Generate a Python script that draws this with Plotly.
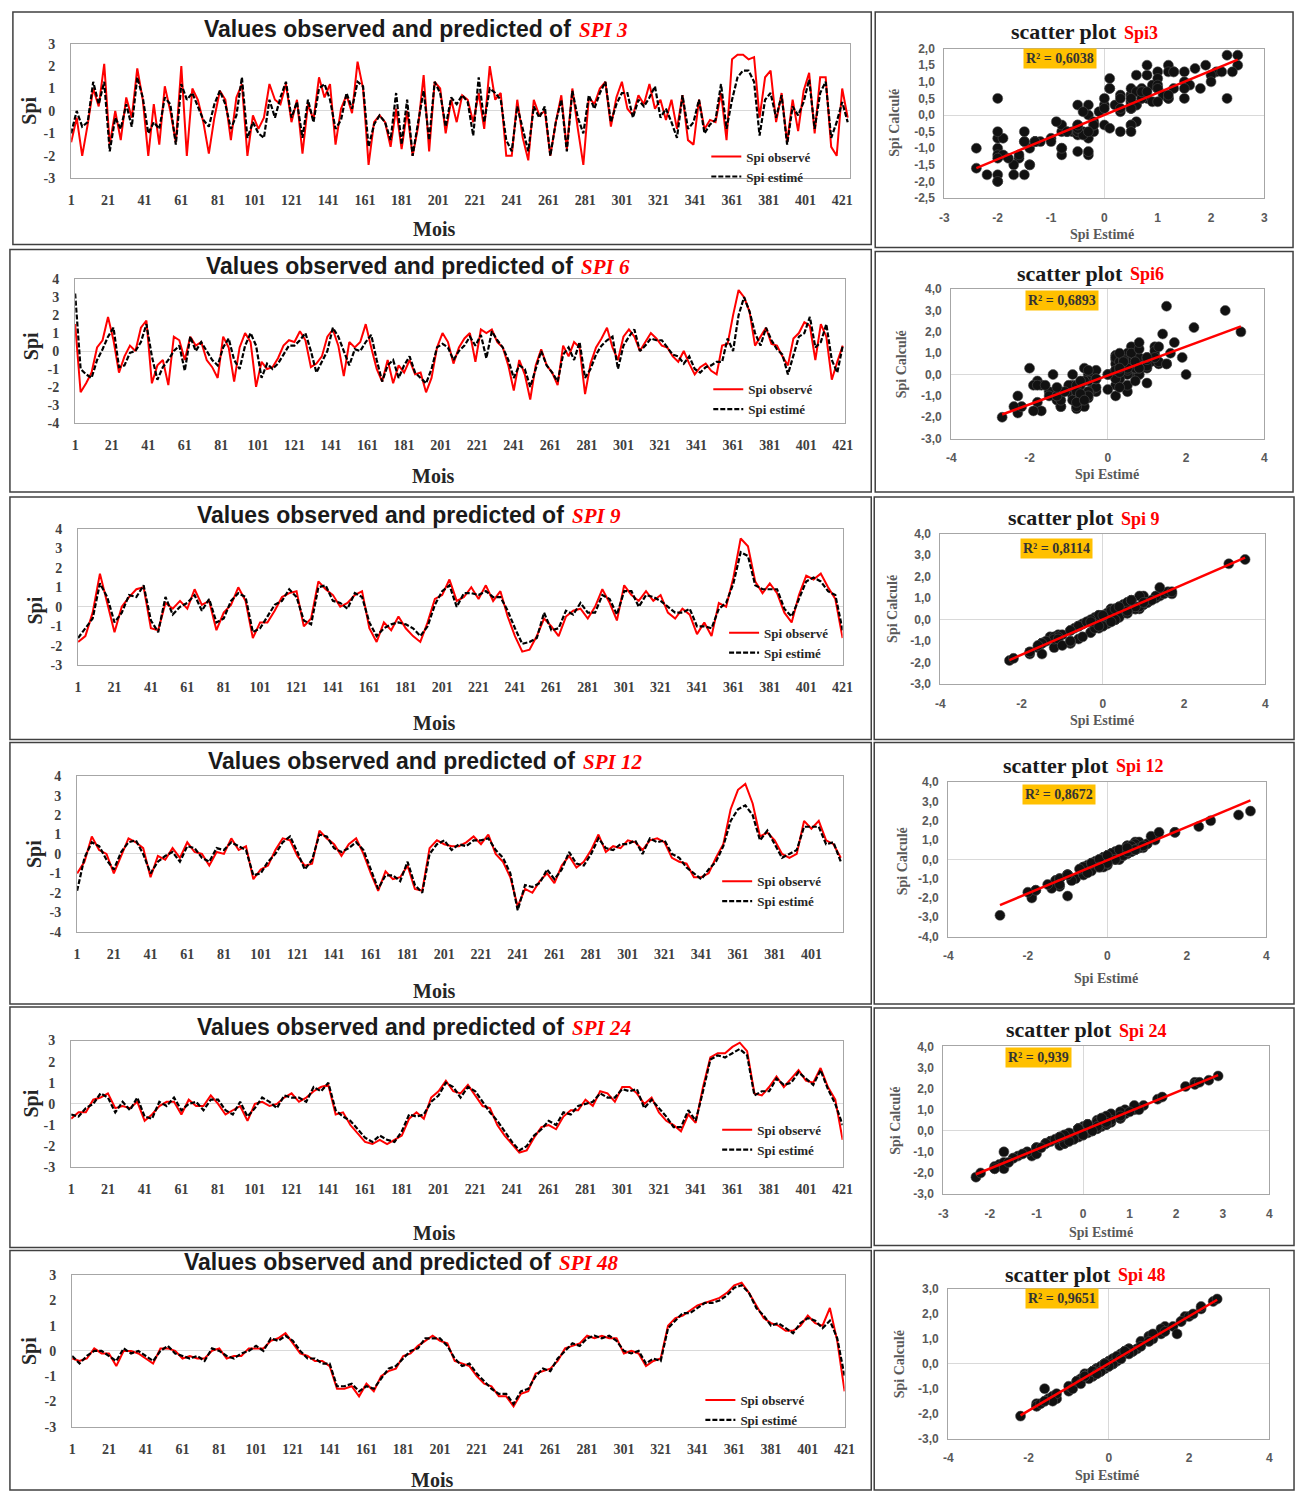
import numpy as np
import plotly.graph_objects as go

W, H = 1307, 1499
SERIF = "Liberation Serif"
SANS = "Liberation Sans"

# ---------------- DATA ----------------
month_ticks = [1, 21, 41, 61, 81, 101, 121, 141, 161, 181, 201, 221, 241, 261, 281, 301, 321, 341, 361, 381, 401, 421]

months_spi3 = list(range(1, 425, 3))
spi3_obs = [-1.4, -0.3, -2.0, -0.6, 1.0, 0.2, 2.1, -1.5, 0.0, -1.3,
            0.6, -0.3, 1.9, 0.5, -2.0, 0.3, -1.5, 1.1, 0.0, -1.4,
            2.0, -2.0, 1.0, 0.5, -0.5, -1.9, -0.3, 0.9, 0.5, -1.3,
            0.6, 1.2, -2.0, -0.2, -0.8, -0.3, 1.2, 0.5, 0.3, 1.2,
            -0.5, 0.5, -1.9, 0.3, -0.4, 1.5, 0.6, 1.2, -1.5, 0.1,
            0.7, -0.1, 2.2, 1.0, -2.4, -0.5, -0.2, -0.5, -1.6, 0.1,
            -1.7, 0.0, -2.0, -0.7, 1.6, -1.8, 1.3, 1.0, -1.0, 0.5,
            -0.5, 0.7, 0.5, -0.5, 0.8, -0.8, 2.0, 0.5, 0.8, -2.0,
            -2.0, 0.5, -1.2, -2.2, 0.5, -0.2, 0.0, -2.0, -0.5, 0.7,
            -1.7, 1.0, -0.8, -2.4, 0.6, 0.3, 1.0, 1.3, -0.7, 0.6,
            1.3, 0.1, -0.2, 0.7, 0.3, 1.2, 0.1, 0.5, -0.4, 0.5,
            -0.8, 0.7, -1.3, -1.5, 0.5, -0.8, -0.4, -0.5, 0.8, -1.3,
            2.3, 2.5, 2.5, 2.3, 2.4, -0.3, 1.5, 1.8, -0.5, 0.8,
            -1.4, 0.5, -0.9, 0.9, 1.7, -1.0, 1.5, 1.5, -1.6, -2.0,
            1.0, -0.3]
spi3_est = [-1.0, 0.0, -0.7, -0.5, 1.3, 0.3, 1.3, -1.8, -0.3, -0.8,
            0.3, -0.7, 1.5, 0.6, -1.0, -0.5, -0.8, 0.6, 0.3, -1.5,
            1.2, 0.5, 0.8, 0.2, -0.4, -0.7, 0.3, 0.9, 0.3, -0.8,
            -0.2, 1.5, -1.2, -0.5, -1.0, -1.2, 0.5, -0.3, 0.6, 1.3,
            -0.3, 0.4, -1.2, 0.5, -0.5, 1.0, 1.2, 0.5, -0.8, -0.4,
            0.8, 0.1, 1.3, 1.1, -1.6, -0.6, -0.2, -0.5, -1.3, 0.8,
            -1.5, 0.5, -2.0, -0.5, 0.9, -1.3, 1.3, 0.8, -0.7, 0.6,
            0.3, 0.7, 0.4, -1.1, 1.5, -0.5, 1.0, 0.8, 0.5, -1.3,
            -1.8, 0.2, -0.8, -1.8, 0.2, -0.3, 0.2, -2.0, -0.5, 0.5,
            -1.8, 0.9, -0.3, -1.0, 0.7, 0.1, 0.8, 1.3, -0.5, 0.3,
            0.8, 0.8, -0.3, 0.5, 0.2, 0.6, 1.1, -0.3, 0.1, -0.5,
            -1.2, 0.7, -0.8, -0.5, 0.5, -1.0, -0.6, -0.4, 1.2, -0.8,
            0.5, 1.5, 1.8, 1.8, 1.3, -1.1, 0.5, 0.8, -0.3, 0.7,
            -1.5, 0.2, -0.2, 0.4, 1.4, -0.8, 0.8, 1.3, -1.2, -0.5,
            0.4, -0.5]

months_spi6 = list(range(1, 422, 3))
spi6_obs = [1.5, -2.3, -1.8, -1.2, 0.2, 0.6, 1.9, 0.6, -1.2, -0.3,
            0.3, 0.0, 1.3, 1.7, -1.8, -0.8, -0.5, -1.9, 0.8, 0.6,
            -0.5, 0.8, 0.3, 0.5, -0.5, -0.9, -1.5, 0.8, 0.2, -1.7,
            0.2, 1.0, 0.5, -2.0, -0.6, -1.0, -0.9, -0.4, 0.3, 0.6,
            0.5, 1.1, 0.6, -0.9, -0.7, -0.3, 0.8, 1.2, 0.3, -1.4,
            0.5, 0.2, 0.5, 1.5, 0.2, -1.0, -1.7, -0.5, -1.8, -0.8,
            -1.2, -0.5, -1.3, -1.2, -2.3, -1.5, 0.2, 1.0, 0.5, -0.7,
            0.2, 0.7, 1.0, -0.6, 1.2, 1.0, 1.2, 0.5, 0.2, -0.8,
            -2.2, -0.5, -1.3, -2.7, -0.8, 0.1, -0.8, -1.2, -1.9, 0.3,
            -0.3, 0.5, 0.2, -2.4, -0.7, 0.2, 0.7, 1.3, 0.2, -0.5,
            0.8, 1.2, 0.8, 0.0, 0.5, 1.0, 0.7, 0.3, 0.2, -0.3,
            -0.6, 0.0, -0.7, -1.3, -0.9, -0.7, -1.1, -1.3, 0.3, 0.4,
            2.0, 3.4, 3.0, 2.2, 0.3, 0.8, 1.3, 0.4, 0.3, -0.3,
            -0.8, 0.7, 1.0, 1.6, 1.4, -0.5, 1.5, 0.8, -1.6, -0.6,
            0.3]
spi6_est = [3.2, -1.0, -1.3, -1.5, -0.5, 0.1, 0.8, 1.3, -0.9, -0.8,
            -0.1, 0.0, 0.5, 1.5, -0.3, -1.6, -0.9, -0.5, 0.0, 0.3,
            -1.1, 0.8, 0.0, 0.5, 0.0, -0.5, -0.8, 0.2, 0.7, -0.5,
            -1.0, 0.3, 1.0, 0.3, -1.5, -0.7, -1.0, -0.7, -0.2, 0.3,
            0.3, 0.6, 1.0, 0.0, -1.2, -0.6, 0.0, 1.3, 0.8, 0.0,
            -0.8, 0.1, 0.0, 0.5, 0.9, -0.5, -1.7, -0.8, -0.5, -1.5,
            -0.8, -0.3, -1.2, -1.5, -1.8, -1.0, 0.2, 0.4, 0.2, -0.5,
            0.0, 0.3, 0.8, 0.3, 0.9, -0.4, 1.1, 0.6, 0.2, -0.5,
            -1.5, -0.8, -1.0, -2.0, -1.0, 0.0, -0.8, -1.2, -1.7, -0.2,
            0.2, -0.5, 0.5, -1.5, -1.0, -0.2, 0.3, 0.6, 0.8, -1.0,
            0.3, 0.8, 1.2, 0.0, 0.3, 0.7, 0.6, 0.6, 0.2, -0.2,
            -0.3, -0.7, -0.3, -1.0, -1.2, -0.9, -0.8, -0.6, -0.6, 0.7,
            0.0, 2.0, 3.0, 2.2, 1.0, 0.3, 1.3, 0.6, 0.1, -0.2,
            -1.3, -0.3, 0.8, 1.0, 1.9, 0.2, 0.5, 1.5, -0.5, -1.2,
            0.3]

months_spi9 = list(range(1, 422, 4))
spi9_obs = [-1.8, -1.5, -0.3, 1.7, 0.2, -1.3, 0.0, 0.5, 0.9, 1.0,
            -1.1, -1.2, 0.2, -0.1, 0.3, -0.1, 0.9, 0.1, 0.3, -1.2,
            -0.3, 0.1, 1.0, 0.3, -1.6, -0.8, -0.8, -0.2, 0.5, 0.7,
            0.8, -1.0, -0.6, 1.3, 0.9, 0.6, 0.0, 0.2, 0.6, 0.8,
            -1.1, -1.8, -0.8, -1.2, -0.5, -1.1, -1.5, -1.8, -0.8, 0.4,
            0.6, 1.4, 0.3, 0.5, 1.0, 0.4, 1.1, 0.3, 0.8, -0.5,
            -1.5, -2.3, -2.2, -1.5, -0.6, -1.0, -1.5, -0.5, -0.2, -0.1,
            -0.6, 0.0, 0.9, 0.2, -0.7, 1.1, 0.6, 0.3, 0.8, 0.3,
            0.6, -0.3, -0.6, -0.1, -0.4, -1.4, -0.8, -1.5, 0.2, 0.0,
            1.5, 3.5, 3.1, 1.3, 0.7, 1.2, 0.7, -0.3, -0.8, 0.6,
            1.6, 1.4, 1.7, 1.0, 0.4, -1.6]
spi9_est = [-1.6, -1.1, -0.6, 1.2, 0.5, -0.8, -0.3, 0.6, 0.5, 1.1,
            -0.7, -1.3, 0.5, -0.4, 0.0, 0.2, 0.6, -0.2, 0.4, -0.8,
            -0.6, 0.3, 0.7, 0.5, -1.3, -1.1, -0.5, 0.1, 0.3, 0.9,
            0.5, -0.7, -0.9, 1.0, 1.1, 0.3, 0.2, -0.1, 0.7, 0.5,
            -0.8, -1.5, -1.1, -0.9, -0.8, -0.9, -1.1, -1.5, -1.0, 0.1,
            0.8, 1.1, 0.0, 0.7, 0.7, 0.6, 0.8, 0.5, 0.5, -0.2,
            -1.1, -1.9, -1.8, -1.6, -0.3, -1.2, -1.1, -0.2, -0.4, 0.2,
            -0.3, -0.3, 0.6, 0.4, -0.4, 0.8, 0.8, 0.0, 0.6, 0.5,
            0.3, 0.0, -0.3, -0.3, -0.1, -1.0, -1.0, -1.1, -0.1, 0.2,
            1.2, 2.8, 2.6, 1.1, 0.9, 0.9, 0.9, -0.1, -0.5, 0.4,
            1.3, 1.5, 1.3, 0.8, 0.6, -1.2]

months_spi12 = list(range(1, 418, 4))
spi12_obs = [-1.0, -0.4, 0.9, 0.2, 0.0, -1.0, -0.1, 0.8, 0.6, 0.3,
             -1.2, -0.1, -0.3, 0.3, -0.2, 0.6, 0.1, 0.0, -0.6, 0.1,
             0.0, 0.8, 0.2, 0.4, -1.3, -0.8, -0.6, 0.2, 0.8, 0.7,
             -0.1, -0.6, -0.5, 1.2, 0.8, 0.5, -0.1, 0.5, 0.8, 0.0,
             -1.0, -1.9, -0.9, -1.3, -1.2, -0.6, -1.8, -1.9, 0.3, 0.7,
             0.5, 0.4, 0.4, 0.6, 0.9, 0.5, 1.0, 0.0, -0.4, -1.2,
             -2.7, -1.8, -2.0, -1.4, -1.0, -1.5, -0.6, -0.1, -0.7, -0.4,
             0.2, 1.0, 0.1, 0.4, 0.3, 0.7, 0.6, 0.2, 0.7, 0.8,
             0.6, -0.2, -0.4, -0.5, -1.2, -1.2, -1.0, -0.2, 0.5, 2.3,
             3.3, 3.6, 2.6, 0.9, 1.1, 0.7, 0.0, -0.2, 0.0, 1.7,
             1.3, 1.7, 0.7, 0.5, -0.2]
spi12_est = [-1.9, -0.2, 0.6, 0.4, -0.3, -0.8, 0.1, 0.6, 0.7, 0.0,
             -1.0, -0.4, -0.1, 0.1, -0.4, 0.4, 0.3, -0.2, -0.4, 0.3,
             0.2, 0.6, 0.4, 0.2, -1.1, -1.0, -0.4, 0.0, 0.6, 0.9,
             0.1, -0.8, -0.3, 1.0, 0.9, 0.3, 0.1, 0.3, 0.6, 0.2,
             -0.8, -1.8, -1.1, -1.1, -1.4, -0.4, -1.6, -2.0, 0.0, 0.5,
             0.7, 0.2, 0.5, 0.4, 0.7, 0.7, 0.8, 0.2, -0.2, -1.0,
             -2.9, -1.6, -1.7, -1.5, -0.8, -1.3, -0.8, 0.1, -0.5, -0.6,
             0.0, 0.8, 0.3, 0.2, 0.5, 0.5, 0.7, 0.0, 0.8, 0.6,
             0.7, 0.0, -0.2, -0.7, -1.0, -1.3, -0.8, -0.4, 0.4, 1.7,
             2.3, 2.5, 2.0, 0.7, 1.2, 0.5, -0.2, 0.0, 0.2, 1.4,
             1.4, 1.4, 0.5, 0.6, -0.4]

months_spi24 = list(range(1, 422, 4))
spi24_obs = [-0.7, -0.4, -0.4, 0.2, 0.3, 0.5, -0.2, -0.1, -0.2, 0.1,
             -0.8, -0.5, -0.1, 0.1, 0.1, -0.5, 0.2, -0.1, -0.1, 0.4,
             0.0, -0.5, -0.3, -0.1, -0.8, 0.0, 0.1, -0.1, 0.0, 0.3,
             0.5, 0.1, 0.3, 0.6, 0.8, 0.9, -0.5, -0.4, -1.0, -1.4,
             -1.8, -1.9, -1.7, -1.9, -1.7, -1.5, -0.7, -0.4, -0.7, 0.3,
             0.6, 1.1, 0.6, 0.5, 0.9, 0.4, -0.1, -0.2, -1.0, -1.5,
             -1.9, -2.3, -2.2, -1.6, -1.1, -1.0, -1.2, -0.6, -0.3, -0.3,
             0.2, -0.1, 0.6, 0.5, 0.1, 0.8, 0.8, 0.5, 0.0, 0.3,
             -0.4, -0.8, -1.0, -1.3, -0.5, -0.9, 0.8, 2.2, 2.4, 2.4,
             2.7, 2.9, 2.5, 0.5, 0.4, 0.8, 1.3, 0.8, 1.2, 1.6,
             1.1, 1.0, 1.7, 0.8, 0.2, -1.7]
spi24_est = [-0.5, -0.6, -0.2, 0.0, 0.5, 0.3, -0.4, 0.1, -0.3, 0.3,
             -0.6, -0.7, 0.1, -0.1, 0.3, -0.3, 0.0, 0.1, -0.3, 0.2,
             0.2, -0.3, -0.5, 0.1, -0.6, -0.2, 0.3, 0.1, -0.2, 0.4,
             0.3, 0.3, 0.1, 0.8, 0.6, 1.0, -0.3, -0.6, -0.8, -1.2,
             -1.6, -1.8, -1.5, -1.7, -1.8, -1.3, -0.5, -0.6, -0.5, 0.1,
             0.4, 1.0, 0.8, 0.3, 0.8, 0.6, 0.1, -0.4, -0.8, -1.3,
             -1.8, -2.2, -2.0, -1.5, -1.2, -0.8, -1.0, -0.4, -0.5, -0.1,
             0.0, 0.1, 0.5, 0.3, 0.3, 0.7, 0.6, 0.7, -0.2, 0.2,
             -0.2, -0.6, -1.1, -1.1, -0.3, -0.8, 0.6, 2.1, 2.3, 2.2,
             2.4, 2.6, 2.3, 0.4, 0.6, 0.6, 1.2, 0.9, 1.0, 1.5,
             1.2, 0.9, 1.6, 0.7, 0.0, -1.0]

months_spi48 = list(range(1, 422, 4))
spi48_obs = [-0.3, -0.4, -0.3, 0.1, -0.1, -0.1, -0.6, 0.0, 0.0, -0.1,
             -0.3, -0.5, 0.1, 0.1, 0.0, -0.3, -0.2, -0.3, -0.3, 0.0,
             0.1, -0.3, -0.2, -0.2, 0.1, 0.1, 0.1, 0.4, 0.5, 0.7,
             0.3, -0.1, -0.2, -0.4, -0.4, -0.6, -1.5, -1.5, -1.4, -1.8,
             -1.3, -1.6, -1.0, -0.8, -0.7, -0.2, -0.1, 0.2, 0.4, 0.6,
             0.4, 0.3, -0.4, -0.5, -0.6, -1.0, -1.3, -1.4, -1.8, -1.8,
             -2.2, -1.7, -1.6, -0.9, -0.8, -0.7, -0.4, 0.1, 0.2, 0.3,
             0.6, 0.5, 0.6, 0.5, 0.5, -0.1, 0.0, -0.1, -0.6, -0.4,
             -0.3, 1.0, 1.3, 1.4, 1.6, 1.8, 1.9, 2.0, 2.1, 2.3,
             2.6, 2.7, 2.3, 1.8, 1.3, 1.1, 1.0, 0.8, 0.8, 1.0,
             1.4, 1.1, 1.0, 1.7, 0.4, -1.6]
spi48_est = [-0.2, -0.5, -0.2, 0.0, 0.0, -0.2, -0.4, 0.1, -0.1, 0.0,
             -0.2, -0.4, 0.0, 0.2, -0.1, -0.2, -0.3, -0.2, -0.4, 0.1,
             0.0, -0.2, -0.3, -0.1, 0.0, 0.2, 0.0, 0.5, 0.4, 0.6,
             0.4, 0.0, -0.3, -0.3, -0.5, -0.5, -1.4, -1.4, -1.3, -1.6,
             -1.4, -1.5, -1.1, -0.7, -0.6, -0.3, 0.0, 0.1, 0.5, 0.5,
             0.5, 0.2, -0.3, -0.6, -0.5, -0.9, -1.2, -1.5, -1.7, -1.7,
             -2.1, -1.6, -1.5, -1.0, -0.7, -0.8, -0.3, 0.0, 0.3, 0.2,
             0.5, 0.6, 0.5, 0.6, 0.4, 0.0, -0.1, 0.0, -0.5, -0.3,
             -0.4, 0.9, 1.2, 1.5, 1.5, 1.7, 1.9, 1.9, 2.0, 2.2,
             2.5, 2.6, 2.3, 1.7, 1.4, 1.0, 1.1, 0.9, 0.7, 1.1,
             1.3, 1.2, 0.9, 1.2, 0.5, -1.0]

r2_labels = ["R² = 0,6038", "R² = 0,6893", "R² = 0,8114", "R² = 0,8672", "R² = 0,939", "R² = 0,9651"]
line_titles = ["SPI 3", "SPI 6", "SPI 9", "SPI 12", "SPI 24", "SPI 48"]
scatter_titles = ["Spi3", "Spi6", "Spi 9", "Spi 12", "Spi 24", "Spi 48"]

# ---------------- LAYOUT CONFIG (pixel positions) ----------------
rows = [
    dict(months=months_spi3, obs=spi3_obs, est=spi3_est,
         lbox=(67, 855, 37, 173), N=425, yr=(-3, 3),
         sbox=(951, 1275, 42, 193), sxr=(-3, 3), sxd=1, syr=(-2.5, 2.0), syd=0.5,
         frameL=(8, 877, 5, 240), frameS=(881, 1304, 5, 243),
         title=(575, 22), stitle=(1128, 25), spi=(25, 105), mois=(434, 224), leg=(710, 136),
         estime=(1111, 230), calc=(901, 117), r2pos=(1068, 52)),
    dict(months=months_spi6, obs=spi6_obs, est=spi6_est,
         lbox=(71, 850, 275, 420), N=422, yr=(-4, 4),
         sbox=(958, 1275, 285, 436), sxr=(-4, 4), sxd=2, syr=(-3, 4), syd=1,
         frameL=(5, 877, 245, 490), frameS=(881, 1304, 247, 490),
         title=(577, 262), stitle=(1134, 269), spi=(27, 343), mois=(433, 474), leg=(712, 371),
         estime=(1116, 472), calc=(908, 361), r2pos=(1070, 296)),
    dict(months=months_spi9, obs=spi9_obs, est=spi9_est,
         lbox=(74, 848, 527, 665), N=421, yr=(-3, 4),
         sbox=(947, 1276, 532, 684), sxr=(-4, 4), sxd=2, syr=(-3, 4), syd=1,
         frameL=(5, 877, 495, 740), frameS=(880, 1305, 495, 740),
         title=(568, 513), stitle=(1125, 516), spi=(31, 610), mois=(434, 723), leg=(728, 617),
         estime=(1111, 721), calc=(899, 608), r2pos=(1065, 547)),
    dict(months=months_spi12, obs=spi12_obs, est=spi12_est,
         lbox=(73, 848, 777, 934), N=418, yr=(-4, 4),
         sbox=(955, 1277, 783, 939), sxr=(-4, 4), sxd=2, syr=(-4, 4), syd=1,
         frameL=(5, 877, 743, 1007), frameS=(880, 1305, 743, 1007),
         title=(579, 762), stitle=(1120, 766), spi=(30, 856), mois=(434, 994), leg=(721, 868),
         estime=(1115, 981), calc=(908, 863), r2pos=(1067, 795)),
    dict(months=months_spi24, obs=spi24_obs, est=spi24_est,
         lbox=(67, 848, 1044, 1172), N=421, yr=(-3, 3),
         sbox=(950, 1280, 1050, 1199), sxr=(-3, 4), sxd=1, syr=(-3, 4), syd=1,
         frameL=(5, 877, 1010, 1253), frameS=(880, 1305, 1011, 1251),
         title=(568, 1030), stitle=(1123, 1033), spi=(27, 1108), mois=(434, 1238), leg=(721, 1119),
         estime=(1110, 1238), calc=(902, 1125), r2pos=(1046, 1061)),
    dict(months=months_spi48, obs=spi48_obs, est=spi48_est,
         lbox=(68, 850, 1281, 1434), N=421, yr=(-3, 3),
         sbox=(955, 1280, 1295, 1446), sxr=(-4, 4), sxd=2, syr=(-3, 3), syd=1,
         frameL=(5, 877, 1256, 1499), frameS=(880, 1305, 1256, 1499),
         title=(555, 1268), stitle=(1122, 1280), spi=(25, 1358), mois=(432, 1488), leg=(704, 1392),
         estime=(1116, 1483), calc=(905, 1371), r2pos=(1070, 1305)),
]


def px(X):
    return X / W


def py(Y):
    return 1 - Y / H


def pxc(X):
    return min(max(X, 1.0), W - 1.0) / W


def pyc(Y):
    return 1 - min(max(Y, 1.0), H - 1.0) / H


def ak(n, a):
    return a if n == 1 else f"{a}{n}"


def int_ticks(lo, hi, step):
    vals = list(np.arange(lo, hi + 1e-9, step))
    return vals, [str(int(round(v))) for v in vals]


def dec_ticks(lo, hi, step):
    vals = list(np.arange(lo, hi + 1e-9, step))
    return vals, [f"{v:.1f}".replace(".", ",") if abs(v) > 1e-9 else "0,0" for v in vals]


fig = go.Figure()
layout = dict(width=W, height=H, autosize=False, margin=dict(l=0, r=0, t=0, b=0),
              paper_bgcolor="white", plot_bgcolor="white",
              font=dict(family=SERIF, color="#262626"))
annotations = []
shapes = []

ltick = dict(family=SERIF, size=14, color="#404040", weight="bold")
stick = dict(family=SANS, size=12, color="#595959", weight="bold")


def ann(x, y, text, font, **kw):
    d = dict(x=px(x), y=py(y), xref="paper", yref="paper", showarrow=False, text=text,
             xanchor="center", yanchor="middle", font=font)
    d.update(kw)
    annotations.append(d)


for i, r in enumerate(rows):
    li, si = 2 * i + 1, 2 * i + 2
    leg = "legend" if i == 0 else f"legend{i + 1}"
    lx, ly, sx, sy = ak(li, "x"), ak(li, "y"), ak(si, "x"), ak(si, "y")

    # ---- line chart ----
    fig.add_trace(go.Scatter(x=r["months"], y=r["obs"], mode="lines", name="Spi observé",
                             line=dict(color="#ff0000", width=2), xaxis=lx, yaxis=ly, legend=leg))
    fig.add_trace(go.Scatter(x=r["months"], y=r["est"], mode="lines", name="Spi estimé",
                             line=dict(color="#000000", width=2.2, dash="5px,2px"),
                             xaxis=lx, yaxis=ly, legend=leg))
    L, R, T, B = r["lbox"]
    yv, yt = int_ticks(r["yr"][0], r["yr"][1], 1)
    layout[ak(li, "xaxis")] = dict(domain=[px(L), px(R)], range=[1, r["N"]], anchor=ly,
                                   tickmode="array", tickvals=[t for t in month_ticks if t <= r["N"]],
                                   showgrid=False, zeroline=False, showline=True, mirror=True,
                                   linecolor="#a6a6a6", linewidth=1.2, ticks="",
                                   tickfont=ltick, ticklabelstandoff=9, fixedrange=True)
    layout[ak(li, "yaxis")] = dict(domain=[py(B), py(T)], range=list(r["yr"]), anchor=lx,
                                   tickmode="array", tickvals=yv, ticktext=yt,
                                   showgrid=False, zeroline=True,
                                   zerolinecolor="#d9d9d9", zerolinewidth=1, showline=True,
                                   mirror=True, linecolor="#a6a6a6", linewidth=1.2, ticks="",
                                   tickfont=ltick, ticklabelstandoff=12, fixedrange=True)
    lgx, lgy = r["leg"]
    layout[leg] = dict(x=px(lgx), y=py(lgy), xanchor="left", yanchor="top",
                       bgcolor="rgba(0,0,0,0)", borderwidth=0, tracegroupgap=0,
                       font=dict(family=SERIF, size=13, color="#262626", weight="bold"))

    # ---- scatter ----
    obs = np.array(r["obs"])
    est = np.array(r["est"])
    fig.add_trace(go.Scatter(x=obs, y=est, mode="markers", showlegend=False,
                             marker=dict(size=10, color="#111111",
                                         line=dict(width=1, color="rgba(80,80,80,0.55)")),
                             xaxis=sx, yaxis=sy))
    slope, icpt = np.polyfit(obs, est, 1)
    xs = np.array([obs.min(), obs.max()])
    fig.add_trace(go.Scatter(x=xs, y=slope * xs + icpt, mode="lines", showlegend=False,
                             line=dict(color="#ff0000", width=2.5), xaxis=sx, yaxis=sy))
    L, R, T, B = r["sbox"]
    xv, xt = int_ticks(r["sxr"][0], r["sxr"][1], r["sxd"])
    yv, yt = dec_ticks(r["syr"][0], r["syr"][1], r["syd"])
    layout[ak(si, "xaxis")] = dict(domain=[px(L), px(R)], range=list(r["sxr"]), anchor=sy,
                                   tickmode="array", tickvals=xv, ticktext=xt,
                                   showgrid=False, zeroline=True,
                                   zerolinecolor="#d9d9d9", zerolinewidth=1, showline=True,
                                   mirror=True, linecolor="#a6a6a6", linewidth=1.2, ticks="",
                                   tickfont=stick, ticklabelstandoff=8, fixedrange=True)
    layout[ak(si, "yaxis")] = dict(domain=[py(B), py(T)], range=list(r["syr"]), anchor=sx,
                                   tickmode="array", tickvals=yv, ticktext=yt, showgrid=False,
                                   zeroline=True, zerolinecolor="#d9d9d9", zerolinewidth=1,
                                   showline=True, mirror=True, linecolor="#a6a6a6", linewidth=1.2,
                                   ticks="", tickfont=stick, ticklabelstandoff=6, fixedrange=True)

    # ---- texts ----
    tx, ty = r["title"]
    ann(tx, ty, "Values observed and predicted of",
        dict(family=SANS, size=23, color="#1a1a1a", weight="bold"), xanchor="right")
    ann(tx + 4, ty + 1, line_titles[i],
        dict(family=SERIF, size=21, color="#ff0000", weight="bold", style="italic"), xanchor="left")
    stx, sty = r["stitle"]
    ann(stx, sty, "scatter plot",
        dict(family=SERIF, size=22, color="#1a1a1a", weight="bold"), xanchor="right")
    ann(stx + 3, sty + 1, scatter_titles[i],
        dict(family=SERIF, size=18, color="#ff0000", weight="bold"), xanchor="left")
    ax_, ay_ = r["spi"]
    ann(ax_, ay_, "Spi", dict(family=SERIF, size=20, color="#262626", weight="bold"), textangle=-90)
    mx, my = r["mois"]
    ann(mx, my, "Mois", dict(family=SERIF, size=20, color="#262626", weight="bold"))
    ex, ey = r["estime"]
    ann(ex, ey, "Spi Estimé", dict(family=SERIF, size=14, color="#595959", weight="bold"))
    cx, cy = r["calc"]
    ann(cx, cy, "Spi Calculé", dict(family=SERIF, size=14, color="#595959", weight="bold"),
        textangle=-90)
    rx, ry = r["r2pos"]
    ann(rx, ry, r2_labels[i], dict(family=SERIF, size=14, color="#333333", weight="bold"),
        bgcolor="#FFC000", borderpad=2)

    for fr in (r["frameL"], r["frameS"]):
        x0, x1, y0, y1 = fr
        shapes.append(dict(type="rect", xref="paper", yref="paper", x0=pxc(x0), x1=pxc(x1),
                           y0=pyc(y1), y1=pyc(y0), line=dict(color="#404040", width=1.5),
                           fillcolor="rgba(0,0,0,0)"))

layout["annotations"] = annotations
layout["shapes"] = shapes
fig.update_layout(**layout)

fig.write_html("out.html", include_plotlyjs=True, config={"displayModeBar": False},
               post_script="document.body.style.margin='0';document.body.style.padding='0';")
